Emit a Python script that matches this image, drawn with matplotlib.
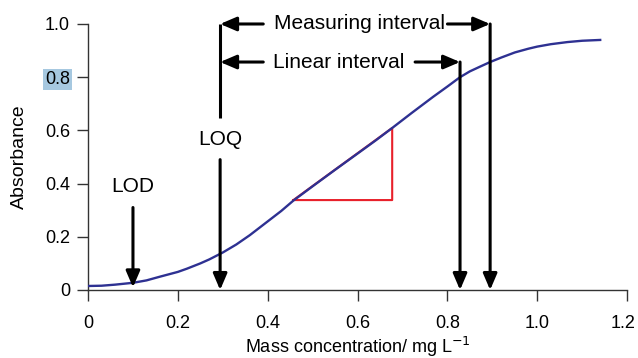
import matplotlib
matplotlib.use("Agg")
import matplotlib.pyplot as plt
from matplotlib.transforms import ScaledTranslation

plt.rcParams['font.family'] = ['Liberation Sans', 'DejaVu Sans']

# calibration curve
conc = [0.0, 0.03, 0.06, 0.1, 0.13, 0.16, 0.2, 0.22, 0.25, 0.27, 0.3, 0.33, 0.36,
        0.4, 0.43, 0.457, 0.5, 0.55, 0.6, 0.64, 0.677, 0.72, 0.768, 0.80, 0.828,
        0.85, 0.873, 0.895, 0.92, 0.95, 0.98, 1.0, 1.03, 1.067, 1.1, 1.14]
absorb = [0.015, 0.016, 0.02, 0.027, 0.036, 0.05, 0.068, 0.08, 0.10, 0.115, 0.141,
          0.171, 0.206, 0.258, 0.297, 0.336, 0.39, 0.452, 0.513, 0.562, 0.609, 0.665,
          0.726, 0.765, 0.80, 0.822, 0.84, 0.857, 0.874, 0.893, 0.907, 0.915, 0.924,
          0.932, 0.937, 0.94]

# slope triangle
tri_x = [0.457, 0.677, 0.677, 0.457]
tri_y = [0.338, 0.609, 0.338, 0.338]

lod, loq, lin_end, meas_end = 0.1, 0.294, 0.828, 0.895
lin_y, meas_y = 0.857, 1.0

xticks = [0, 0.2, 0.4, 0.6, 0.8, 1.0, 1.2]
xtick_labels = ['0', '0.2', '0.4', '0.6', '0.8', '1.0', '1.2']
yticks = [0, 0.2, 0.4, 0.6, 0.8, 1.0]
ytick_labels = ['0', '0.2', '0.4', '0.6', '0.8', '1.0']

fig = plt.figure(figsize=(6.38, 3.58), dpi=100)
ax = fig.add_axes([0.138, 0.19, 0.845, 0.743])

ax.plot(conc, absorb, color='#2e3192', lw=1.7, zorder=3)
ax.plot(tri_x, tri_y, color='#e8202a', lw=1.5, zorder=2)

ax.set_xlim(0, 1.2)
ax.set_ylim(0, 1.0)
for s in ['top', 'right']:
    ax.spines[s].set_visible(False)
for s in ['left', 'bottom']:
    ax.spines[s].set_color('#333333')
    ax.spines[s].set_linewidth(1.0)
ax.set_xticks(xticks)
ax.set_xticklabels(xtick_labels)
ax.set_yticks(yticks)
ax.set_yticklabels(ytick_labels)
ax.tick_params(direction='out', length=8, width=1, color='#333333',
               labelsize=13, pad=5)
ax.tick_params(axis='x', pad=10)
for lab in ax.get_yticklabels():
    if lab.get_text() == '0.8':
        lab.set_bbox(dict(facecolor='#a6c8e0', edgecolor='none', pad=1.5))
# keep the last x label inside the canvas
last = ax.get_xticklabels()[-1]
last.set_transform(last.get_transform() + ScaledTranslation(-3/72, 0, fig.dpi_scale_trans))

ax.set_xlabel('Mass concentration/ mg L$^{-1}$', fontsize=13, labelpad=2)
ax.set_ylabel('Absorbance', fontsize=14, labelpad=12)

head = dict(arrowstyle='-|>,head_length=0.7,head_width=0.3', color='black',
            lw=2.2, shrinkA=0, shrinkB=0, mutation_scale=14)
fs = 15

# LOD
ax.text(lod, 0.39, 'LOD', ha='center', va='center', fontsize=fs)
ax.annotate('', xy=(lod, 0.01), xytext=(lod, 0.31), arrowprops=head,
            annotation_clip=False)

# LOQ
ax.plot([loq, loq], [meas_y, 0.645], color='black', lw=2.2, clip_on=False,
        solid_capstyle='butt')
ax.text(loq, 0.567, 'LOQ', ha='center', va='center', fontsize=fs)
ax.annotate('', xy=(loq, 0.0), xytext=(loq, 0.49), arrowprops=head,
            annotation_clip=False)

# linear interval
ax.text(0.559, lin_y, 'Linear interval', ha='center', va='center', fontsize=fs)
ax.annotate('', xy=(loq, lin_y), xytext=(0.39, lin_y), arrowprops=head,
            annotation_clip=False)
ax.annotate('', xy=(lin_end, lin_y), xytext=(0.728, lin_y), arrowprops=head,
            annotation_clip=False)
ax.annotate('', xy=(lin_end, 0.0), xytext=(lin_end, lin_y), arrowprops=head,
            annotation_clip=False)

# measuring interval
ax.text(0.605, meas_y, 'Measuring interval', ha='center', va='center',
        fontsize=fs, clip_on=False)
ax.annotate('', xy=(loq, meas_y), xytext=(0.39, meas_y), arrowprops=head,
            annotation_clip=False)
ax.annotate('', xy=(meas_end, meas_y), xytext=(0.80, meas_y), arrowprops=head,
            annotation_clip=False)
ax.annotate('', xy=(meas_end, 0.0), xytext=(meas_end, meas_y), arrowprops=head,
            annotation_clip=False)

fig.savefig('out.png', dpi=100)
